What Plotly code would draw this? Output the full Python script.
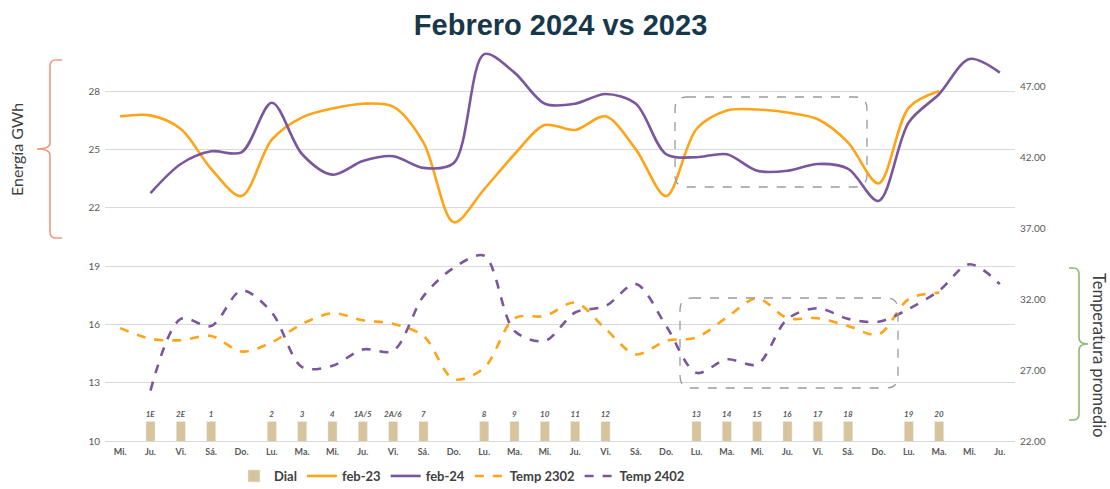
import plotly.graph_objects as go

# ---------------- data ----------------
days = ["Mi.", "Ju.", "Vi.", "Sá.", "Do.", "Lu.", "Ma.", "Mi.", "Ju.", "Vi.",
        "Sá.", "Do.", "Lu.", "Ma.", "Mi.", "Ju.", "Vi.", "Sá.", "Do.", "Lu.",
        "Ma.", "Mi.", "Ju.", "Vi.", "Sá.", "Do.", "Lu.", "Ma.", "Mi.", "Ju."]

feb23 = [26.7, 26.75, 26.05, 24.0, 22.6, 25.5, 26.65, 27.1, 27.35, 27.2,
         25.35, 21.25, 22.95, 24.75, 26.25, 26.0, 26.7, 25.0, 22.6, 26.05,
         27.0, 27.05, 26.9, 26.55, 25.35, 23.25, 27.15, 28.0]

feb24 = [22.75, 24.25, 24.9, 24.85, 27.4, 24.75, 23.7, 24.4, 24.65, 24.05,
         24.3, 29.9, 28.95, 27.35, 27.35, 27.85, 27.35, 24.75, 24.6, 24.75,
         23.9, 23.9, 24.25, 24.0, 22.35, 26.4, 27.85, 29.65, 28.95]

temp2302 = [29.95, 29.2, 29.1, 29.4, 28.3, 28.95, 30.25, 31.0, 30.5, 30.25,
            29.4, 26.35, 27.15, 30.65, 30.8, 31.75, 29.9, 28.1, 29.05, 29.3,
            30.7, 32.05, 30.65, 30.65, 30.1, 29.5, 32.0, 32.45]

temp2402 = [25.55, 30.6, 30.1, 32.6, 31.05, 27.2, 27.3, 28.45, 28.35, 32.2,
            34.2, 35.05, 29.75, 29.05, 31.05, 31.5, 33.05, 30.1, 26.8, 27.75,
            27.4, 30.6, 31.35, 30.6, 30.4, 31.3, 32.6, 34.45, 33.05]

dial_idx = [1, 2, 3, 5, 6, 7, 8, 9, 10, 12, 13, 14, 15, 16, 19, 20, 21, 22, 23, 24, 26, 27]
dial_labels = ["1E", "2E", "1", "2", "3", "4", "1A/5", "2A/6", "7", "8", "9", "10",
               "11", "12", "13", "14", "15", "16", "17", "18", "19", "20"]
dial_values = [11] * len(dial_idx)

# ---------------- styles ----------------
ORANGE = "#FFA317"
PURPLE = "#7A569C"
TAN = "#D8C49C"
GRID = "#D9D9D9"
TICK = "#595959"
FONT = "Lato"

W, H = 1110, 489
ML, MR, MT, MB = 105, 95, 40, 48
PW, PH = W - ML - MR, H - MT - MB


def px(x):
    return (x - ML) / PW


def py(y):
    return (H - MB - y) / PH


fig = go.Figure()

fig.add_trace(go.Bar(
    x=dial_idx, y=dial_values, name="<b>Dial</b>", marker_color=TAN, width=0.3,
    text=[f"<b><i>{t}</i></b>" for t in dial_labels], textposition="outside",
    constraintext="none",
    textfont=dict(size=8, color=TICK, family=FONT), cliponaxis=False,
))

fig.add_trace(go.Scatter(
    x=list(range(0, len(feb23))), y=feb23, name="<b>feb-23</b>", mode="lines",
    line=dict(color=ORANGE, width=2.6, shape="spline", smoothing=0.9),
))
fig.add_trace(go.Scatter(
    x=list(range(1, 1 + len(feb24))), y=feb24, name="<b>feb-24</b>", mode="lines",
    line=dict(color=PURPLE, width=2.6, shape="spline", smoothing=0.9),
))
fig.add_trace(go.Scatter(
    x=list(range(0, len(temp2302))), y=temp2302, name="<b>Temp 2302</b>", mode="lines",
    yaxis="y2",
    line=dict(color=ORANGE, width=2.6, dash="dash", shape="spline", smoothing=0.9),
))
fig.add_trace(go.Scatter(
    x=list(range(1, 1 + len(temp2402))), y=temp2402, name="<b>Temp 2402</b>", mode="lines",
    yaxis="y2",
    line=dict(color=PURPLE, width=2.6, dash="dash", shape="spline", smoothing=0.9),
))


def rounded_box(x0, y0, x1, y1, r):
    def P(x, y):
        return f"{px(x):.5f},{py(y):.5f}"
    return (f"M {P(x0 + r, y0)} L {P(x1 - r, y0)} Q {P(x1, y0)} {P(x1, y0 + r)} "
            f"L {P(x1, y1 - r)} Q {P(x1, y1)} {P(x1 - r, y1)} "
            f"L {P(x0 + r, y1)} Q {P(x0, y1)} {P(x0, y1 - r)} "
            f"L {P(x0, y0 + r)} Q {P(x0, y0)} {P(x0 + r, y0)} Z")


def bracket(xv, y0, y1, xhook, xtip, r):
    ym = (y0 + y1) / 2
    d = 1 if xhook > xv else -1

    def P(x, y):
        return f"{px(x):.5f},{py(y):.5f}"
    return (f"M {P(xhook, y0)} L {P(xv + d * r, y0)} Q {P(xv, y0)} {P(xv, y0 + r)} "
            f"L {P(xv, ym - r)} Q {P(xv, ym)} {P(xtip, ym)} "
            f"Q {P(xv, ym)} {P(xv, ym + r)} "
            f"L {P(xv, y1 - r)} Q {P(xv, y1)} {P(xv + d * r, y1)} L {P(xhook, y1)}")


shapes = [
    dict(type="path", xref="paper", yref="paper", path=rounded_box(675, 97, 867, 187, 12),
         line=dict(color="#9A9A9A", width=1.3, dash="dash")),
    dict(type="path", xref="paper", yref="paper", path=rounded_box(680, 298, 898, 388, 12),
         line=dict(color="#9A9A9A", width=1.3, dash="dash")),
    dict(type="path", xref="paper", yref="paper", path=bracket(50, 60, 238, 62, 37, 6),
         line=dict(color="#EE9A80", width=1.6)),
    dict(type="path", xref="paper", yref="paper", path=bracket(1079, 268, 420, 1069, 1088, 6),
         line=dict(color="#8DB872", width=1.6)),
]

annotations = [
    dict(text="Energía GWh", xref="paper", yref="paper", x=px(16), y=py(150),
         xanchor="center", yanchor="middle",
         showarrow=False, textangle=-90, font=dict(size=16, color="#404040", family=FONT)),
    dict(text="Temperatura promedio", xref="paper", yref="paper", x=px(1099), y=py(355),
         xanchor="center", yanchor="middle",
         showarrow=False, textangle=90, font=dict(size=16.5, color="#404040", family=FONT)),
]

fig.update_layout(
    width=W, height=H,
    margin=dict(l=ML, r=MR, t=MT, b=MB, autoexpand=False),
    paper_bgcolor="white", plot_bgcolor="white",
    title=dict(text="<b>Febrero 2024 vs 2023</b>", x=0.505, xanchor="center",
               y=1 - 25 / H, yanchor="middle",
               font=dict(size=29, color="#17384A", family="Liberation Sans")),
    barmode="overlay",
    xaxis=dict(range=[-0.5, 29.5], tickmode="array", tickvals=list(range(len(days))),
               ticktext=[f"<b>{d}</b>" for d in days], showgrid=False, zeroline=False,
               showline=True, linecolor=GRID, linewidth=1.3, ticks="", automargin=False,
               ticklabelstandoff=2,
               tickfont=dict(size=9, color=TICK, family=FONT)),
    yaxis=dict(range=[10, 10 + PH / 19.44], tick0=10, dtick=3, showgrid=True,
               gridcolor=GRID, gridwidth=1.3, zeroline=False, ticks="", automargin=False,
               tickfont=dict(size=10, color=TICK, family=FONT), ticklabelstandoff=4),
    yaxis2=dict(range=[22, 22 + PH / 14.2], tick0=22, dtick=5, tickformat=".2f",
                overlaying="y", side="right", showgrid=False, zeroline=False, ticks="",
                automargin=False,
                tickfont=dict(size=10, color=TICK, family=FONT), ticklabelstandoff=4),
    legend=dict(orientation="h", x=px(462), xanchor="center", y=py(476), yanchor="middle",
                font=dict(size=13, color="#404040", family=FONT), itemwidth=30,
                traceorder="normal"),
    shapes=shapes, annotations=annotations,
    showlegend=True,
)

fig.write_html("out.html", config={"displayModeBar": False},
               post_script="document.body.style.margin='0';document.body.style.overflow='hidden';")
